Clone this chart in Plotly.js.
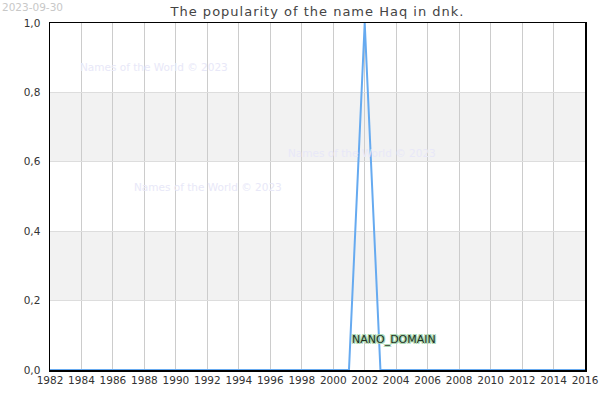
<!DOCTYPE html>
<html>
<head>
<meta charset="utf-8">
<script src="https://cdn.plot.ly/plotly-3.0.1.min.js"></script>
<style>
  html, body { margin: 0; padding: 0; background: #fff; }
  #chart { width: 600px; height: 400px; }
  /* the reference title is spaced out a bit */
  #chart .gtitle { letter-spacing: 1px; }
</style>
</head>
<body>
<div id="chart"></div>
<script>
// years and popularity of the name
const years = [1982, 1983, 1984, 1985, 1986, 1987, 1988, 1989, 1990, 1991, 1992, 1993,
  1994, 1995, 1996, 1997, 1998, 1999, 2000, 2001, 2002, 2003, 2004, 2005, 2006, 2007,
  2008, 2009, 2010, 2011, 2012, 2013, 2014, 2015, 2016];
const popularity = [0, 0, 0, 0, 0, 0, 0, 0, 0, 0, 0, 0,
  0, 0, 0, 0, 0, 0, 0, 0, 1, 0, 0, 0, 0, 0,
  0, 0, 0, 0, 0, 0, 0, 0, 0];
const titleText = 'The popularity of the name Haq in dnk.';
const dateText = '2023-09-30';
const watermark = 'Names of the World © 2023';
const bands = [[0.2, 0.4], [0.6, 0.8]];

const trace = {
  x: years,
  y: popularity,
  type: 'scatter',
  mode: 'lines',
  line: { color: '#66aaf0', width: 2 },
  hoverinfo: 'none'
}

let shapes = bands.map(b => ({
  type: 'rect', xref: 'paper', yref: 'y', x0: 0, x1: 1, y0: b[0], y1: b[1],
  fillcolor: '#f2f2f2', line: { width: 0 }, layer: 'below'
}))

const wmFont = { family: 'DejaVu Sans', size: 10.5, color: '#e8e8f8' };
// watermarks, placed in paper coords
let annotations = [
  { x: 0.194, y: 0.873 },
  { x: 0.583, y: 0.625 },
  { x: 0.295, y: 0.527 }
].map(p => ({
  text: watermark, xref: 'paper', yref: 'paper', x: p.x, y: p.y,
  xanchor: 'center', yanchor: 'middle', showarrow: false, font: wmFont
}))

annotations.push({
  text: dateText, xref: 'paper', yref: 'paper', x: -0.0935, y: 1.046,
  xanchor: 'left', yanchor: 'middle',
  showarrow: false, font: { family: 'DejaVu Sans', size: 10.5, color: '#c8c8c8' }
})
annotations.push({
  text: 'NANO_DOMAIN', xref: 'paper', yref: 'paper', x: 0.561, y: 0.0865,
  xanchor: 'left', yanchor: 'middle', showarrow: false,
  font: {
    family: 'DejaVu Sans', size: 11, color: '#1e2e22',
    shadow: '1px 1px 0 #a8d8b0, -1px -1px 0 #a8d8b0, 1px -1px 0 #a8d8b0, -1px 1px 0 #a8d8b0'
  }
})

const layout = {
  width: 600,
  height: 400,
  margin: { l: 50, r: 15, t: 23, b: 30 },
  paper_bgcolor: '#fff',
  plot_bgcolor: '#fff',
  separators: ', ',
  showlegend: false,
  font: { family: 'DejaVu Sans', size: 10.5, color: '#333' },
  title: {
    text: titleText, x: 0.5, xref: 'paper', y: 0.9725, yref: 'container', yanchor: 'middle',
    font: { family: 'DejaVu Sans', size: 13, color: '#444' }
  },
  xaxis: {
    range: [1982, 2016], dtick: 2, tick0: 1982, tickformat: 'd',
    showgrid: true, gridcolor: '#cccccc', gridwidth: 1,
    showline: true, linecolor: '#000', linewidth: 1.5, mirror: true,
    zeroline: false, ticks: '', fixedrange: true
  },
  yaxis: {
    range: [0, 1], dtick: 0.2, tick0: 0, tickformat: '.1f',
    showgrid: true, gridcolor: '#dddddd', gridwidth: 1,
    showline: true, linecolor: '#000', linewidth: 1.5, mirror: true,
    zeroline: false, ticks: '', ticklabelstandoff: 6, fixedrange: true
  },
  shapes: shapes,
  annotations: annotations
}

Plotly.newPlot('chart', [trace], layout, { displayModeBar: false, staticPlot: true })
</script>
</body>
</html>
